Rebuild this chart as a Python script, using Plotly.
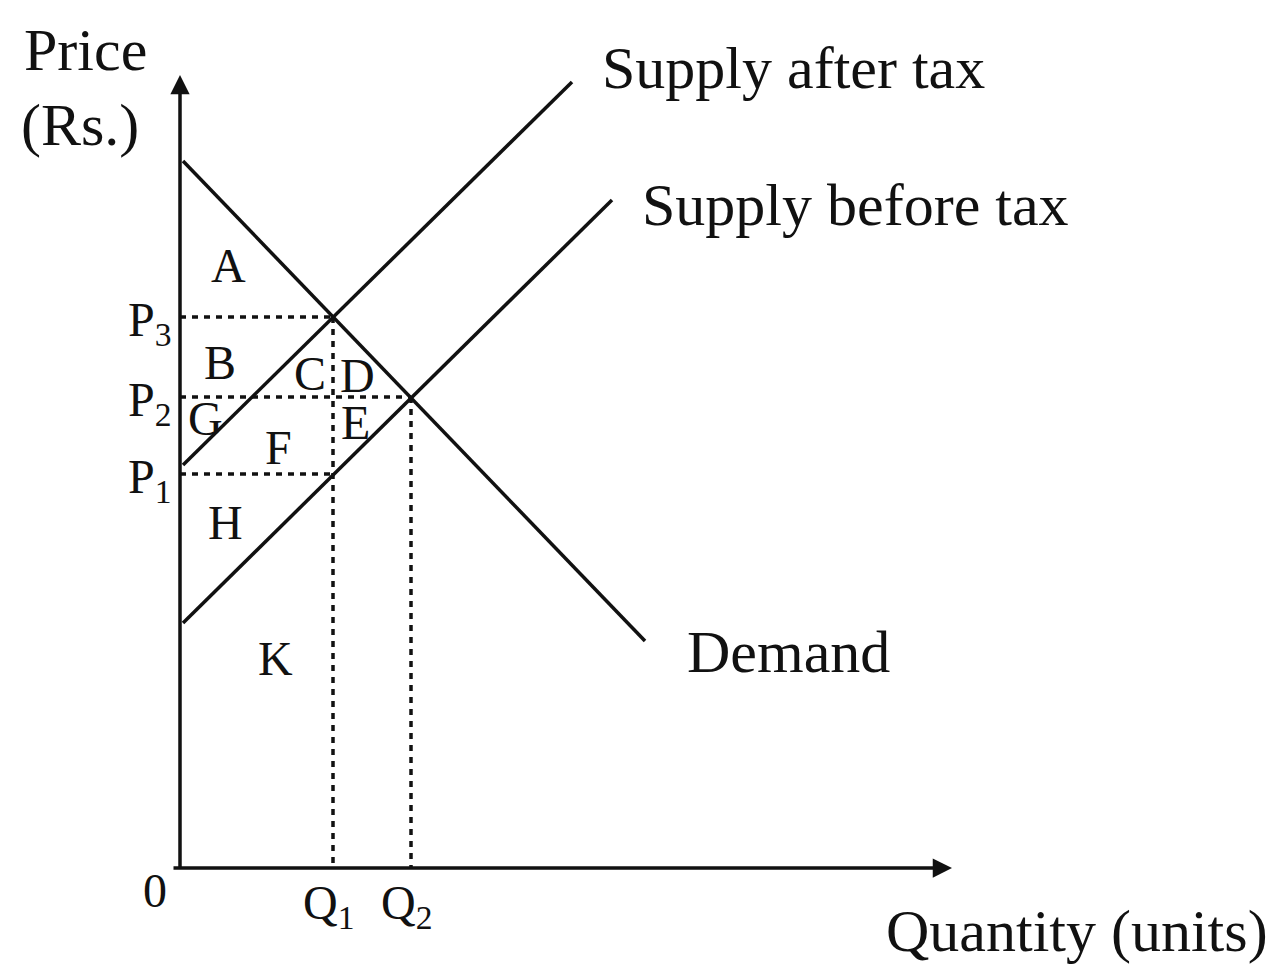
import plotly.graph_objects as go

# ---- data (economic diagram coordinates) ----
demand_x = [3, 465]
demand_y = [707, 227]
supply_after_x = [3, 392]
supply_after_y = [403, 786]
supply_before_x = [3, 432]
supply_before_y = [245, 668]

P3, P2, P1 = 551, 471, 394
Q1, Q2 = 153, 231

price_labels = ["P<sub>3</sub>", "P<sub>2</sub>", "P<sub>1</sub>"]
qty_labels = ["Q<sub>1</sub>", "Q<sub>2</sub>"]

area_labels = ["A", "B", "C", "D", "G", "F", "E", "H", "K"]
area_x = [48, 40, 130, 177, 25, 98, 175, 45, 95]
area_y = [603, 506, 495, 493, 450, 421, 446, 346, 210]

INK = "#111111"
FONT = "Liberation Serif"

fig = go.Figure()

solid = dict(color=INK, width=3.5)
dashed = dict(color=INK, width=3.5, dash="6px,6px")

fig.add_trace(go.Scatter(x=demand_x, y=demand_y, mode="lines", line=solid, hoverinfo="skip"))
fig.add_trace(go.Scatter(x=supply_after_x, y=supply_after_y, mode="lines", line=solid, hoverinfo="skip"))
fig.add_trace(go.Scatter(x=supply_before_x, y=supply_before_y, mode="lines", line=solid, hoverinfo="skip"))

# dashed guide lines
fig.add_trace(go.Scatter(x=[0, Q1], y=[P3, P3], mode="lines", line=dashed, hoverinfo="skip"))
fig.add_trace(go.Scatter(x=[0, Q2], y=[P2, P2], mode="lines", line=dashed, hoverinfo="skip"))
fig.add_trace(go.Scatter(x=[0, Q1], y=[P1, P1], mode="lines", line=dashed, hoverinfo="skip"))
fig.add_trace(go.Scatter(x=[Q1, Q1], y=[P3, 0], mode="lines", line=dashed, hoverinfo="skip"))
fig.add_trace(go.Scatter(x=[Q2, Q2], y=[P2, 0], mode="lines", line=dashed, hoverinfo="skip"))

# axes with arrows
fig.add_annotation(x=0, y=793, ax=0, ay=-2, xref="x", yref="y", axref="x", ayref="y",
                   text="", showarrow=True, arrowhead=2, arrowsize=1.1, arrowwidth=3.5, arrowcolor=INK)
fig.add_annotation(x=772, y=0, ax=-8, ay=0, xref="x", yref="y", axref="x", ayref="y",
                   text="", showarrow=True, arrowhead=2, arrowsize=1.1, arrowwidth=3.5, arrowcolor=INK)

big = dict(family=FONT, size=60, color=INK)
mid = dict(family=FONT, size=48, color=INK)

def txt(x, y, t, font, xanchor="center"):
    fig.add_annotation(x=x, y=y, text=t, showarrow=False, font=font,
                       xanchor=xanchor, yanchor="middle")

txt(-95, 818, "Price", big)
txt(-100, 743, "(Rs.)", big)
txt(613, 800, "Supply after tax", big)
txt(675, 663, "Supply before tax", big)
txt(608, 216, "Demand", big)
txt(897, -63, "Quantity (units)", big)
txt(-25, -22, "0", mid)

for lab, p in zip(price_labels, [P3, P2, P1]):
    txt(-30, p - 6, lab, mid)
for lab, q in zip(qty_labels, [Q1, Q2]):
    txt(q - 5, -38, lab, mid)
for lab, x, y in zip(area_labels, area_x, area_y):
    txt(x, y, lab, mid)

# the page body adds an 8px margin; size the figure so it fits the window
fig.update_layout(
    width=1268, height=958,
    margin=dict(l=0, r=0, t=0, b=0),
    paper_bgcolor="white", plot_bgcolor="white",
    showlegend=False,
    xaxis=dict(range=[-172, 1096], visible=False, fixedrange=True),
    yaxis=dict(range=[-98, 860], visible=False, fixedrange=True),
)

fig.write_html("out.html")
